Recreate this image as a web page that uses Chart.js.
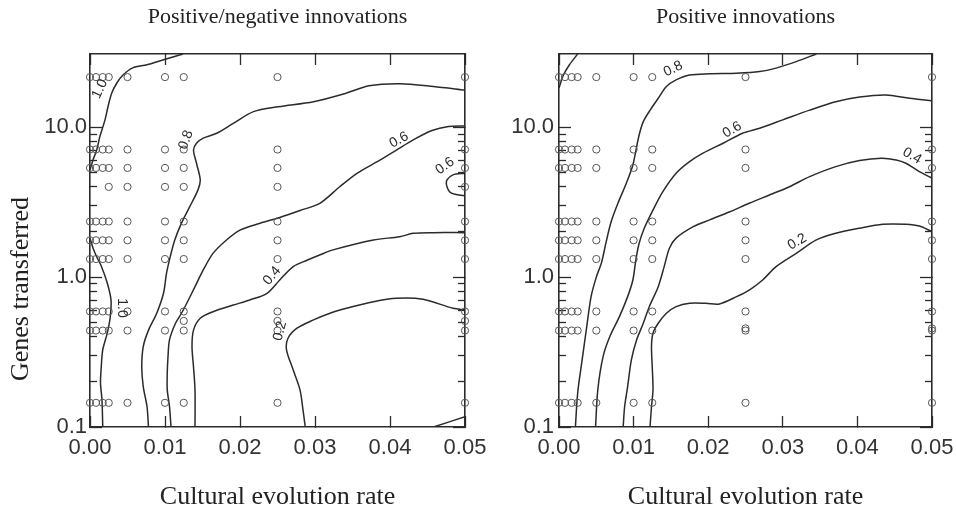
<!DOCTYPE html>
<html><head><meta charset="utf-8">
<script src="https://cdn.jsdelivr.net/npm/chart.js@4.4.1/dist/chart.umd.min.js"></script>
<style>
html,body{margin:0;padding:0;background:#fff;}
#wrap{position:relative;width:956px;height:515px;background:#fff;}
canvas{position:absolute;left:0;top:0;}
</style></head><body>
<div id="wrap"><canvas id="cL" width="956" height="515"></canvas><canvas id="cR" width="956" height="515"></canvas></div>
<script>
// ---------- text ----------
const panelTitles = ['Positive/negative innovations', 'Positive innovations'];
const xAxisTitle = 'Cultural evolution rate';
const yAxisTitle = 'Genes transferred';

// ---------- ticks ----------
const xTickValues = [0, 0.01, 0.02, 0.03, 0.04, 0.05];
const xTickLabels = ['0.00', '0.01', '0.02', '0.03', '0.04', '0.05'];
const yMajorValues = [0.1, 1, 10];
const yMajorLabels = ['0.1', '1.0', '10.0'];
const yMinorValues = [0.2, 0.3, 0.4, 0.5, 0.6, 0.7, 0.8, 0.9, 2, 3, 4, 5, 6, 7, 8, 9];
const xRange = [0, 0.05];
const yRange = [0.1, 30.8];

// ---------- sampled parameter combinations (circles) ----------
const sampleRates = [0, 0.0008, 0.0017, 0.0025, 0.005, 0.01, 0.0125, 0.025, 0.05];
const sampleGenes = [21.6, 7.1, 5.35, 2.35, 1.76, 1.32, 0.59, 0.44, 0.145];
const leftExtraSamples = [[0.0025, 4.0], [0.005, 4.0], [0.01, 4.0], [0.0125, 4.0], [0.025, 4.0], [0.05, 4.0],
  [0.0125, 0.51], [0.025, 0.51], [0.05, 0.51]];
const rightExtraSamples = [[0.025, 0.455], [0.05, 0.455]];

// ---------- contours, left panel (positive/negative innovations) ----------
const leftC10a = [[0.0124, 30.8], [0.0097, 28.1], [0.0076, 26.1], [0.0057, 24.9], [0.0044, 22.3], [0.0036, 19.8], [0.0029, 16.9], [0.0024, 13.7], [0.0020, 11.2], [0.0013, 8.6], [0.0009, 7.06], [0.0004, 6.05], [0, 5.19]];
const leftC10b = [[0, 1.82], [0.0004, 1.565], [0.0009, 1.363], [0.0015, 1.187], [0.0023, 0.914], [0.0028, 0.704], [0.0027, 0.542], [0.0023, 0.423], [0.0017, 0.327], [0.0015, 0.251], [0.0014, 0.197], [0.0016, 0.151], [0.0017, 0.1]];
const leftC08 = [[0.05, 17.7], [0.0458, 18.7], [0.0413, 19.5], [0.0372, 18.9], [0.0342, 16.9], [0.0298, 14.8], [0.0251, 13.7], [0.0218, 12.7], [0.0191, 10.6], [0.0169, 9.12], [0.0151, 8.45], [0.0142, 7.82], [0.0138, 7.06], [0.0142, 5.75], [0.0147, 4.45], [0.0144, 3.82], [0.0133, 2.95], [0.0122, 2.29], [0.0113, 1.77], [0.0107, 1.37], [0.0102, 1.06], [0.0098, 0.78], [0.0089, 0.574], [0.0078, 0.443], [0.0071, 0.344], [0.0069, 0.252], [0.0071, 0.186], [0.0076, 0.137], [0.0078, 0.1]];
const leftC06 = [[0.05, 10.2], [0.0478, 10.1], [0.0456, 9.5], [0.0431, 8.23], [0.0409, 7.06], [0.0387, 6.05], [0.0356, 4.93], [0.0333, 4.01], [0.0307, 3.12], [0.028, 2.78], [0.0253, 2.5], [0.0227, 2.29], [0.02, 2.06], [0.0182, 1.77], [0.0164, 1.44], [0.0151, 1.116], [0.014, 0.863], [0.0129, 0.669], [0.0122, 0.574], [0.0114, 0.492], [0.0106, 0.381], [0.0104, 0.294], [0.0103, 0.228], [0.0103, 0.177], [0.0106, 0.137], [0.0108, 0.1]];
const leftC06b = [[0.05, 4.93], [0.0484, 4.81], [0.0476, 4.45], [0.0476, 4.01], [0.0482, 3.63], [0.05, 3.48]];
const leftC04 = [[0.05, 1.98], [0.0458, 1.98], [0.0431, 1.96], [0.0413, 1.86], [0.0378, 1.77], [0.0324, 1.52], [0.0307, 1.41], [0.029, 1.30], [0.0271, 1.175], [0.0253, 0.957], [0.0236, 0.78], [0.0213, 0.704], [0.0191, 0.651], [0.0164, 0.588], [0.0147, 0.531], [0.0138, 0.443], [0.0136, 0.344], [0.0138, 0.252], [0.014, 0.177], [0.014, 0.1]];
const leftC02 = [[0.05, 0.604], [0.0484, 0.619], [0.0444, 0.711], [0.0409, 0.722], [0.0378, 0.685], [0.0342, 0.619], [0.032, 0.574], [0.0298, 0.518], [0.0276, 0.456], [0.0264, 0.391], [0.0262, 0.327], [0.0271, 0.24], [0.028, 0.177], [0.0284, 0.13], [0.0287, 0.1]];
const leftC00 = [[0.0458, 0.1], [0.05, 0.117]];

// ---------- contours, right panel (positive innovations) ----------
const rightC10 = [[0.0025, 30.8], [0.0014, 26.1], [0.0006, 22.3], [0, 18.3]];
const rightC08 = [[0.0345, 30.8], [0.0318, 27.4], [0.0291, 24.8], [0.0269, 23.5], [0.0238, 22.9], [0.0202, 22.7], [0.0175, 22.3], [0.0157, 20.7], [0.0144, 18.7], [0.0133, 15.6], [0.0123, 13.2], [0.0113, 10.9], [0.0107, 8.7], [0.0099, 5.6], [0.009, 4.2], [0.008, 3.2], [0.007, 2.35], [0.0063, 1.7], [0.0057, 1.25], [0.005, 1.0], [0.0043, 0.741], [0.0037, 0.46], [0.0031, 0.28], [0.0025, 0.168], [0.0022, 0.1]];
const rightC06 = [[0.05, 15.0], [0.047, 15.6], [0.0438, 16.4], [0.0403, 15.9], [0.0371, 14.8], [0.0336, 13.0], [0.03, 11.2], [0.0269, 9.85], [0.0246, 9.12], [0.022, 7.82], [0.0193, 6.71], [0.0175, 5.89], [0.0157, 4.93], [0.0139, 3.7], [0.0126, 2.8], [0.0114, 2.1], [0.0107, 1.65], [0.0103, 1.3], [0.0099, 0.957], [0.0092, 0.741], [0.0081, 0.545], [0.0068, 0.40], [0.0059, 0.294], [0.0052, 0.177], [0.0049, 0.1]];
const rightC04 = [[0.05, 4.57], [0.0483, 5.05], [0.0465, 5.75], [0.0452, 6.05], [0.0432, 6.21], [0.0403, 5.99], [0.0371, 5.46], [0.0336, 4.68], [0.0309, 4.01], [0.0282, 3.53], [0.0255, 3.11], [0.0229, 2.73], [0.0202, 2.41], [0.018, 2.17], [0.0157, 1.82], [0.0148, 1.558], [0.0141, 1.175], [0.0133, 0.863], [0.0121, 0.635], [0.0113, 0.492], [0.0104, 0.381], [0.0097, 0.28], [0.0092, 0.186], [0.0088, 0.137], [0.0086, 0.1]];
const rightC02 = [[0.05, 2.01], [0.0483, 2.19], [0.0465, 2.25], [0.0434, 2.25], [0.0403, 2.12], [0.0371, 1.96], [0.0345, 1.77], [0.0318, 1.44], [0.0291, 1.175], [0.0273, 0.957], [0.0255, 0.82], [0.0238, 0.741], [0.0215, 0.662], [0.0197, 0.669], [0.0175, 0.669], [0.0157, 0.635], [0.0144, 0.574], [0.0133, 0.492], [0.0126, 0.422], [0.0124, 0.344], [0.0125, 0.252], [0.0126, 0.177], [0.0124, 0.137], [0.0122, 0.1]];

// ---------- contour labels: [text, x, y, angle in degrees] ----------
const leftContourLabels = [['1.0', 0.00133, 18.0, -65], ['1.0', 0.00427, 0.622, 90], ['0.8', 0.0128, 8.23, -70],
  ['0.6', 0.0412, 8.23, -28], ['0.6', 0.04733, 5.52, -35], ['0.4', 0.02427, 1.02, -50], ['0.2', 0.02533, 0.437, -75]];
const rightContourLabels = [['0.8', 0.01531, 24.5, -25], ['0.6', 0.02321, 9.6, -30], ['0.4', 0.04732, 6.43, 30], ['0.2', 0.03192, 1.72, -30]];

const INK = '#2b2b2b';
Chart.defaults.font.family = '"Liberation Sans", Arial, sans-serif';

function toXY(arr) { return arr.map(p => ({x: p[0], y: p[1]})); }
function samplePoints(rates, genes, extra) {
  const pts = [];
  genes.forEach(g => rates.forEach(r => pts.push({x: r, y: g})));
  extra.forEach(p => pts.push({x: p[0], y: p[1]}));
  return pts;
}

const contourLabelPlugin = {
  id: 'contourLabels',
  afterDatasetsDraw(chart, args, opts) {
    const {ctx, scales: {x, y}} = chart;
    ctx.save();
    ctx.fillStyle = INK;
    ctx.font = '14px "Liberation Sans"';
    ctx.textAlign = 'center';
    ctx.textBaseline = 'middle';
    (opts.labels || []).forEach(([t, vx, vy, a]) => {
      ctx.save();
      ctx.translate(x.getPixelForValue(vx), y.getPixelForValue(vy));
      ctx.rotate(a * Math.PI / 180);
      ctx.fillText(t, 0, 0);
      ctx.restore();
    });
    ctx.restore();
  }
};
const yTitlePlugin = {
  id: 'yTitle',
  afterDraw(chart, args, opts) {
    if (!opts.text) return;
    const {ctx} = chart;
    ctx.save();
    ctx.fillStyle = '#222';
    ctx.font = '26px "Liberation Serif"';
    ctx.textAlign = 'center';
    ctx.textBaseline = 'middle';
    ctx.translate(opts.x, opts.y);
    ctx.rotate(-Math.PI / 2);
    ctx.fillText(opts.text, 0, 0);
    ctx.restore();
  }
};

function makePanel(id, cfg) {
  const datasets = cfg.contours.map(c => ({
    data: toXY(c), showLine: true, pointRadius: 0, borderColor: INK, borderWidth: 1.5,
    tension: 0.3, order: 1
  }));
  datasets.push({
    data: cfg.samples, showLine: false, pointStyle: 'circle', pointRadius: 3.6,
    pointBorderColor: '#555', pointBackgroundColor: 'rgba(0,0,0,0)', pointBorderWidth: 1,
    clip: false, order: 0
  });
  const border = {display: true, color: INK, width: 1.6};
  const setX = s => { s.ticks = xTickValues.map(v => ({value: v})); };
  const setYMaj = s => { s.ticks = yMajorValues.map(v => ({value: v})); };
  const setYMin = s => { s.ticks = yMinorValues.map(v => ({value: v})); };
  const tickFont = {family: '"Liberation Sans"', size: 22};
  return new Chart(document.getElementById(id), {
    type: 'scatter',
    data: {datasets},
    options: {
      responsive: false, animation: false, devicePixelRatio: 1,
      layout: {padding: cfg.padding},
      events: [],
      plugins: {
        legend: {display: false}, tooltip: {enabled: false},
        title: {display: true, text: cfg.title, fullSize: false, color: '#222',
          font: {family: '"Liberation Serif"', size: 22, weight: 'normal'}, padding: {top: 4, bottom: 23.6}},
        contourLabels: {labels: cfg.labels},
        yTitle: cfg.yTitle
      },
      scales: {
        x: {axis: 'x', type: 'linear', position: 'bottom', min: xRange[0], max: xRange[1],
          afterBuildTicks: setX,
          ticks: {callback: (v, i) => xTickLabels[i], font: tickFont, color: '#333', padding: 19, maxRotation: 0, autoSkip: false},
          grid: {drawOnChartArea: false, tickLength: -11, tickColor: INK, tickWidth: 1.3},
          border,
          title: {display: true, text: xAxisTitle, color: '#222', font: {family: '"Liberation Serif"', size: 26}, padding: {top: 0, bottom: 2}},
          afterFit: s => { s.height = 88; s.paddingLeft = 0; s.paddingRight = 0; }
        },
        xTop: {axis: 'x', type: 'linear', position: 'top', min: xRange[0], max: xRange[1],
          afterBuildTicks: setX, ticks: {display: false},
          grid: {drawOnChartArea: false, tickLength: -11, tickColor: INK, tickWidth: 1.3},
          border,
          afterFit: s => { s.height = 0; s.paddingLeft = 0; s.paddingRight = 0; }
        },
        y: {axis: 'y', type: 'logarithmic', position: 'left', weight: 10, min: yRange[0], max: yRange[1],
          afterBuildTicks: setYMaj,
          ticks: {callback: (v, i) => yMajorLabels[i], font: tickFont, color: '#333', padding: cfg.yPad, autoSkip: false},
          grid: {drawOnChartArea: false, tickLength: -12, tickColor: INK, tickWidth: 1.3},
          border,
          afterFit: s => { s.width = 90; s.paddingTop = 0; s.paddingBottom = 0; }
        },
        yMinor: {axis: 'y', type: 'logarithmic', position: 'left', weight: 0, min: yRange[0], max: yRange[1],
          afterBuildTicks: setYMin, ticks: {display: false},
          grid: {drawOnChartArea: false, tickLength: -7, tickColor: INK, tickWidth: 1.3},
          border: {display: false},
          afterFit: s => { s.width = 0; s.paddingTop = 0; s.paddingBottom = 0; }
        },
        yRight: {axis: 'y', type: 'logarithmic', position: 'right', weight: 0, min: yRange[0], max: yRange[1],
          afterBuildTicks: setYMaj, ticks: {display: false},
          grid: {drawOnChartArea: false, tickLength: -12, tickColor: INK, tickWidth: 1.3},
          border,
          afterFit: s => { s.width = 0; s.paddingTop = 0; s.paddingBottom = 0; }
        },
        yRightMinor: {axis: 'y', type: 'logarithmic', position: 'right', weight: 1, min: yRange[0], max: yRange[1],
          afterBuildTicks: setYMin, ticks: {display: false},
          grid: {drawOnChartArea: false, tickLength: -7, tickColor: INK, tickWidth: 1.3},
          border: {display: false},
          afterFit: s => { s.width = 0; s.paddingTop = 0; s.paddingBottom = 0; }
        }
      }
    },
    plugins: [contourLabelPlugin, yTitlePlugin]
  });
}

makePanel('cL', {
  title: panelTitles[0],
  padding: {left: 0, right: 491, top: 0, bottom: 0},
  yPad: 15,
  contours: [leftC10a, leftC10b, leftC08, leftC06, leftC06b, leftC04, leftC02, leftC00],
  samples: samplePoints(sampleRates, sampleGenes, leftExtraSamples),
  labels: leftContourLabels,
  yTitle: {text: yAxisTitle, x: 21, y: 289}
});
makePanel('cR', {
  title: panelTitles[1],
  padding: {left: 469, right: 24, top: 0, bottom: 0},
  yPad: 17,
  contours: [rightC10, rightC08, rightC06, rightC04, rightC02],
  samples: samplePoints(sampleRates, sampleGenes, rightExtraSamples),
  labels: rightContourLabels,
  yTitle: {text: ''}
});
</script>
</body></html>
